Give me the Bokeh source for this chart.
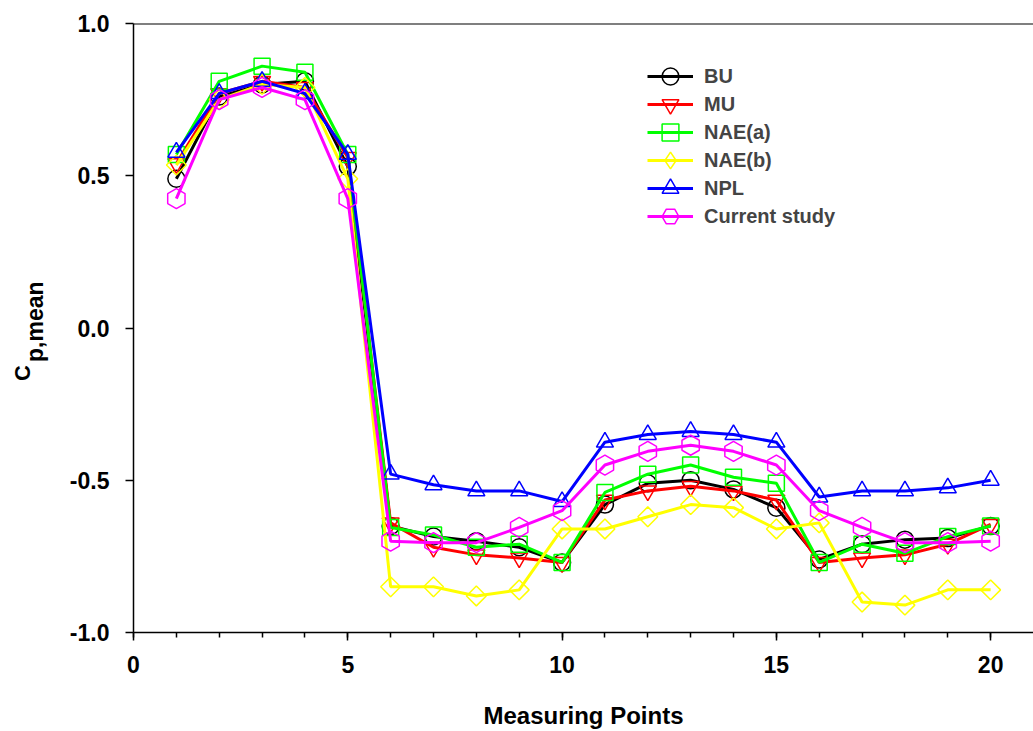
import math
from bokeh.plotting import figure
from bokeh.layouts import row
from bokeh.models import (Range1d, FixedTicker, PrintfTickFormatter, Legend, LegendItem, Span)
from bokeh.core.properties import value
from bokeh.embed import file_html
from bokeh.resources import INLINE

points = list(range(1, 21))
bu = [0.49, 0.76, 0.80, 0.81, 0.53, -0.65, -0.685, -0.70, -0.72, -0.77,
      -0.58, -0.51, -0.50, -0.53, -0.59, -0.76, -0.71, -0.695, -0.69, -0.65]
mu = [0.54, 0.77, 0.81, 0.79, 0.56, -0.64, -0.72, -0.745, -0.755, -0.77,
      -0.565, -0.535, -0.52, -0.535, -0.565, -0.77, -0.755, -0.745, -0.71, -0.645]
nae_a = [0.57, 0.81, 0.86, 0.84, 0.57, -0.655, -0.68, -0.72, -0.71, -0.77,
         -0.54, -0.48, -0.45, -0.49, -0.51, -0.77, -0.71, -0.74, -0.685, -0.65]
nae_b = [0.535, 0.75, 0.80, 0.79, 0.49, -0.85, -0.85, -0.88, -0.86, -0.66,
         -0.66, -0.62, -0.58, -0.59, -0.66, -0.64, -0.90, -0.91, -0.86, -0.86]
npl = [0.577, 0.77, 0.81, 0.77, 0.57, -0.48, -0.515, -0.535, -0.535, -0.57,
       -0.375, -0.35, -0.34, -0.35, -0.375, -0.555, -0.535, -0.535, -0.525, -0.50]
current = [0.425, 0.75, 0.79, 0.75, 0.425, -0.70, -0.705, -0.705, -0.655, -0.60,
           -0.45, -0.405, -0.385, -0.405, -0.45, -0.60, -0.655, -0.705, -0.705, -0.70]

series_names = ["BU", "MU", "NAE(a)", "NAE(b)", "NPL", "Current study"]
series_values = [bu, mu, nae_a, nae_b, npl, current]
colors = ["#000000", "#FF0000", "#00FF00", "#FFFF00", "#0000FF", "#FF00FF"]
markers = ["circle", "inverted_triangle", "square", "square", "triangle", "hex"]
legend_markers = ["circle", "inverted_triangle", "square", "diamond", "triangle", "hex"]
sizes = [17, 17, 16, 14, 17, 20]
angles = [0, 0, 0, math.pi / 4, 0, math.pi / 2]

x_ticks = [0, 5, 10, 15, 20]
y_ticks = [-1.0, -0.5, 0.0, 0.5, 1.0]

FONT = "Liberation Sans"
W = 1033
H = 731
LAB_W = 60
FRAME_TOP = 23
FRAME_BOTTOM = 633

# ---- main plot ----
p = figure(width=W - LAB_W, height=H, output_backend="svg", toolbar_location=None,
           x_range=Range1d(0, 21.0), y_range=Range1d(-1.0, 1.0),
           min_border_left=133 - LAB_W, min_border_right=0, min_border_top=FRAME_TOP,
           min_border_bottom=H - FRAME_BOTTOM)
p.outline_line_color = None
p.xgrid.visible = False
p.ygrid.visible = False

for ax in (p.xaxis[0], p.yaxis[0]):
    ax.axis_line_width = 1.5
    ax.axis_line_color = "black"
    ax.major_tick_line_width = 1.5
    ax.minor_tick_line_width = 1.5
    ax.major_tick_in = 0
    ax.major_tick_out = 8
    ax.minor_tick_in = 0
    ax.minor_tick_out = 5
    ax.major_label_text_font = FONT
    ax.major_label_text_font_style = "bold"
    ax.major_label_text_font_size = "23px"
    ax.major_label_text_color = "black"

p.xaxis.ticker = FixedTicker(ticks=x_ticks, minor_ticks=list(range(0, 21)))
p.yaxis.ticker = FixedTicker(ticks=y_ticks, minor_ticks=[])
p.yaxis.formatter = PrintfTickFormatter(format="%.1f")
p.xaxis.major_label_standoff = 15
p.yaxis.major_label_standoff = 16

p.xaxis.axis_label = "Measuring Points"
p.xaxis.axis_label_text_font = FONT
p.xaxis.axis_label_text_font_style = "bold"
p.xaxis.axis_label_text_font_size = "24px"
p.xaxis.axis_label_text_color = "black"
p.xaxis.axis_label_standoff = 26

p.add_layout(Span(location=1.0, dimension="width", line_color="black", line_width=2))

items = []
for name, vals, col, mk, lmk, sz, ang in zip(series_names, series_values, colors, markers,
                                              legend_markers, sizes, angles):
    ln = p.line(points, vals, line_color=col, line_width=3)
    sc = p.scatter(points, vals, marker=mk, size=sz, angle=ang, line_color=col,
                   fill_color=None, line_width=1.5)
    if lmk != mk:
        lg = p.scatter(points, vals, marker=lmk, size=0, line_color=col,
                       fill_color=None, line_width=1.5)
        items.append(LegendItem(label=name, renderers=[ln, lg]))
    else:
        items.append(LegendItem(label=name, renderers=[ln, sc]))

# two interleaved legends so the rows can sit 28px apart with large sample markers
ROW = 28
GH = 42
legend_top = 77 - GH // 2
for k in range(2):
    sub = items[k::2]
    n = len(sub)
    h = n * GH + (n - 1) * (2 * ROW - GH)
    top = legend_top + k * ROW
    lgd = Legend(items=sub, location=(647 - 133, FRAME_BOTTOM - (top + h)),
                 glyph_width=46, glyph_height=GH, label_height=GH, spacing=2 * ROW - GH,
                 padding=0, margin=0, label_standoff=11,
                 label_text_font=FONT, label_text_font_style="bold",
                 label_text_font_size="20px", background_fill_alpha=0,
                 border_line_color=None)
    p.add_layout(lgd, "center")

# ---- y-axis title panel (its frame is aligned with the main frame by the row) ----
lab = figure(width=LAB_W, height=H, output_backend="svg", toolbar_location=None,
             x_range=Range1d(0, LAB_W), y_range=Range1d(-1.0, 1.0),
             min_border_left=0, min_border_right=0, min_border_top=FRAME_TOP,
             min_border_bottom=H - FRAME_BOTTOM, x_axis_type=None, y_axis_type=None)
lab.grid.visible = False
lab.outline_line_color = None


def ypix(py):
    return (328 - py) / 305.0


lab.text(x=[22], y=[ypix(381)], text=["C"], angle=math.pi / 2,
         text_font=value(FONT), text_font_style="bold", text_font_size="22px",
         text_align="left", text_baseline="alphabetic", text_color="black")
lab.text(x=[34], y=[ypix(362)], text=["p,mean"], angle=math.pi / 2,
         text_font=value(FONT), text_font_style="bold", text_font_size="23px",
         text_align="left", text_baseline="alphabetic", text_color="black")

layout = row(lab, p)
open("out.html", "w").write(file_html(layout, INLINE))
